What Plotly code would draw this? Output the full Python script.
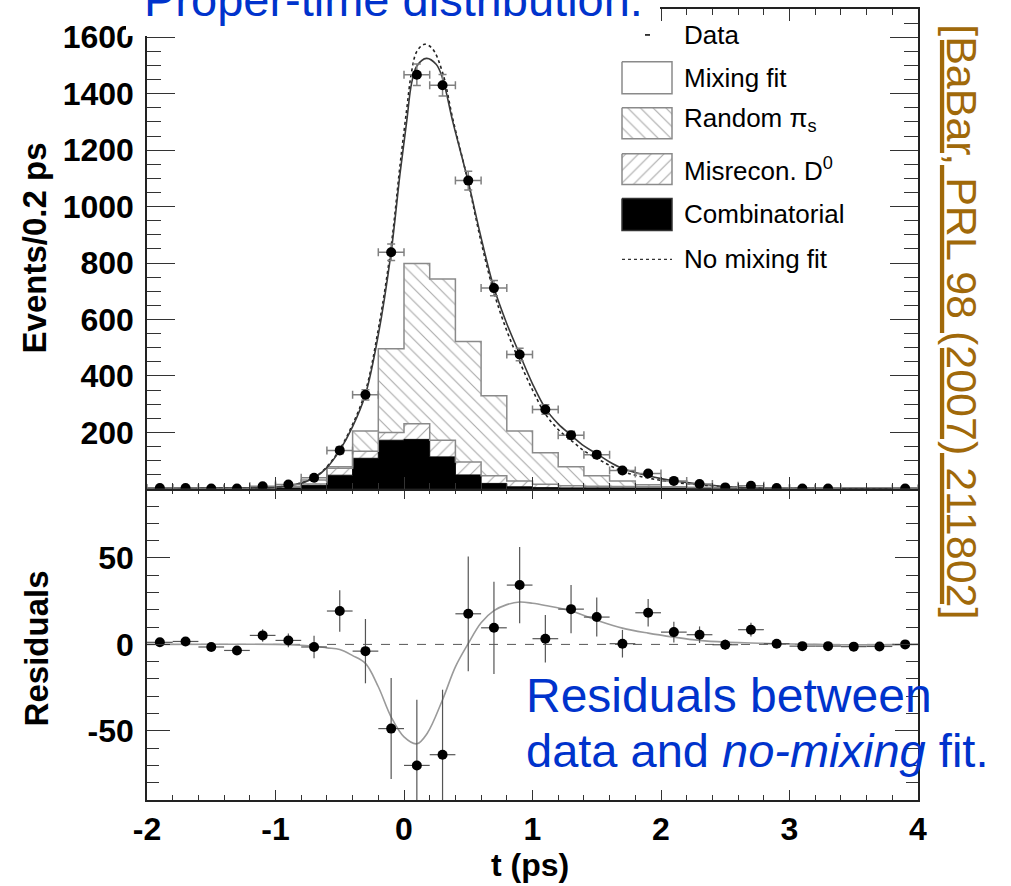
import numpy as np
import plotly.graph_objects as go

# ---------------- data ----------------
t_centers = [-1.9, -1.7, -1.5, -1.3, -1.1, -0.9, -0.7, -0.5, -0.3, -0.1,
             0.1, 0.3, 0.5, 0.7, 0.9, 1.1, 1.3, 1.5, 1.7, 1.9,
             2.1, 2.3, 2.5, 2.7, 2.9, 3.1, 3.3, 3.5, 3.7, 3.9]
bin_edges = [-2.0, -1.8, -1.6, -1.4, -1.2, -1.0, -0.8, -0.6, -0.4, -0.2,
             0.0, 0.2, 0.4, 0.6, 0.8, 1.0, 1.2, 1.4, 1.6, 1.8,
             2.0, 2.2, 2.4, 2.6, 2.8, 3.0, 3.2, 3.4, 3.6, 3.8, 4.0]

events = [3, 3, 1, 1, 9, 15, 39, 136, 333, 838,
          1467, 1430, 1092, 711, 476, 281, 190, 121, 65, 54,
          28, 17, 5, 11, 3, 1, 1, None, None, 1]
events_err = [2, 2, 1, 1, 3, 4, 6, 12, 18, 29,
              38, 38, 33, 27, 22, 17, 14, 11, 8, 7,
              5, 4, 2, 3, 2, 1, 1, 0, 0, 1]

combinatorial = [1, 1, 1, 1, 2, 4, 12, 48, 108, 172,
                 175, 113, 49, 19, 7, 4, 3, 3, 3, 3,
                 3, 3, 3, 3, 3, 3, 3, 3, 3, 3]
misrecon_d0 = [0, 0, 0, 0, 1, 2, 5, 25, 25, 27,
               55, 59, 46, 27, 21, 12, 8, 6, 5, 4,
               3, 2, 1, 1, 1, 0, 0, 0, 0, 0]
random_pis = [0, 0, 0, 0, 1, 2, 14, 5, 72, 297,
              568, 571, 427, 284, 177, 112, 67, 37, 20, 7,
              1, 0, 0, 0, 0, 0, 0, 0, 0, 0]

mix_t = [-2.0, -1.5, -1.2, -1.0, -0.9, -0.8, -0.7, -0.6, -0.5, -0.4, -0.3, -0.2, -0.1,
         -0.03, 0.02, 0.06, 0.1, 0.175, 0.25, 0.3, 0.38, 0.5, 0.6, 0.7, 0.8, 0.9, 1.0,
         1.1, 1.2, 1.3, 1.4, 1.5, 1.6, 1.7, 1.8, 1.9, 2.0, 2.1, 2.3, 2.5, 2.7, 3.0, 3.5, 4.0]
mix_fit = [0, 1, 3, 6, 11, 20, 38, 75, 136, 220, 334, 545, 839,
           1120, 1298, 1439, 1498, 1525, 1504, 1455, 1300, 1088, 890, 712, 585, 477, 372,
           285, 230, 190, 152, 124, 95, 72, 58, 46, 36, 28, 17, 8, 3, 1, 0, 0]

nomix_t = [-2.0, -1.5, -1.2, -1.0, -0.9, -0.8, -0.7, -0.6, -0.5, -0.4, -0.3, -0.2, -0.1,
           -0.03, 0.02, 0.06, 0.1, 0.16, 0.22, 0.3, 0.38, 0.5, 0.6, 0.7, 0.8, 0.9, 1.0,
           1.1, 1.2, 1.3, 1.4, 1.5, 1.6, 1.7, 1.8, 1.9, 2.0, 2.1, 2.3, 2.5, 2.7, 3.0, 3.5, 4.0]
nomix_fit = [0, 1, 3, 6, 11, 21, 40, 78, 140, 228, 345, 565, 860,
             1150, 1340, 1480, 1550, 1575, 1560, 1475, 1310, 1085, 875, 695, 560, 450, 350,
             265, 210, 172, 135, 108, 83, 62, 48, 38, 30, 23, 14, 7, 3, 1, 0, 0]

residuals = [1.2, 1.7, -1.5, -3.5, 5.2, 2.3, -1.5, 19.3, -3.9, -48.7,
             -70.0, -63.8, 17.7, 9.6, 34.3, 3.3, 20.4, 15.8, 0.4, 18.3,
             7.1, 5.6, -0.2, 8.5, 0.4, -1.0, -1.0, -1.3, -1.2, 0.0]
residuals_err = [1.5, 1.5, 1.5, 1.5, 3.6, 4.0, 6.5, 12.0, 18.6, 29.2,
                 38.0, 37.6, 33.2, 26.7, 22.0, 13.7, 14.0, 11.3, 8.0, 8.0,
                 6.0, 4.8, 3.0, 4.0, 2.5, 1.5, 1.5, 1.5, 1.5, 1.5]

resfit_t = [-2.0, -1.0, -0.8, -0.7, -0.6, -0.5, -0.4, -0.3, -0.2, -0.1, 0.0, 0.1, 0.18,
            0.3, 0.4, 0.5, 0.6, 0.7, 0.8, 0.9, 1.0, 1.1, 1.3, 1.5, 1.7, 1.9, 2.1, 2.3,
            2.5, 2.7, 2.9, 3.2, 3.6, 4.0]
resfit = [0, 0, -0.5, -1, -2, -3, -6.5, -11, -24.5, -42, -53.5, -57.5, -51.5,
          -32, -13, 0.5, 12.5, 19.5, 23, 24.5, 23.8, 22.5, 19.3, 14, 9.4, 6.5, 4.2, 2.3,
          1.3, 0.8, 0.4, 0, -0.3, 0]

top_yticks = [200, 400, 600, 800, 1000, 1200, 1400, 1600]
top_yticktext = ["200", "400", "600", "800", "1000", "1200", "1400", "1600"]
res_yticks = [-50, 0, 50]
res_yticktext = ["-50", "0", "50"]
x_ticks = [-2, -1, 0, 1, 2, 3, 4]
x_ticktext = ["-2", "-1", "0", "1", "2", "3", "4"]

legend_labels = ["Data", "Mixing fit", "Random \u03c0<sub>s</sub>",
                 "Misrecon. D<sup>0</sup>", "Combinatorial", "No mixing fit"]

# ---------------- layout constants (pixels) ----------------
W, H = 1011, 886
PX_L, PX_R, PY_T, PY_B = 147, 918, 7, 800
PY_SPLIT = 488
FONT = "Liberation Sans, Arial, Helvetica, sans-serif"
BLUE = "#0033CC"
GOLD = "#A0690A"

def xp(px):
    return (px - PX_L) / (PX_R - PX_L)

def yp(py):
    return (PY_B - py) / (PY_B - PY_T)

TOP_RANGE = [0, 1700]
X_RANGE = [-2, 4]

def tx(px):  # pixel -> top panel data x
    return X_RANGE[0] + (px - PX_L) / (PX_R - PX_L) * (X_RANGE[1] - X_RANGE[0])

def ty(py):  # pixel -> top panel data y
    return TOP_RANGE[0] + (PY_SPLIT - py) / (PY_SPLIT - PY_T) * (TOP_RANGE[1] - TOP_RANGE[0])

split = yp(PY_SPLIT)

fig = go.Figure()

# ---------------- stacked step histograms ----------------
c1 = np.array(combinatorial, dtype=float)
c2 = c1 + np.array(misrecon_d0, dtype=float)
c3 = c2 + np.array(random_pis, dtype=float)

def step(v):
    v = list(v)
    return v + [v[-1]]

fig.add_trace(go.Scatter(x=bin_edges, y=step(c1), xaxis="x2", yaxis="y2", mode="lines",
                         line=dict(shape="hv", color="black", width=1),
                         fill="tozeroy", fillcolor="black", hoverinfo="skip"))
fig.add_trace(go.Scatter(x=bin_edges, y=step(c2), xaxis="x2", yaxis="y2", mode="lines",
                         line=dict(shape="hv", color="#8a8a8a", width=1.5),
                         fill="tonexty", fillcolor="white",
                         fillpattern=dict(shape="/", fgcolor="#a8a8a8", bgcolor="white",
                                          size=9, solidity=0.12, fillmode="replace"),
                         hoverinfo="skip"))
fig.add_trace(go.Scatter(x=bin_edges, y=step(c3), xaxis="x2", yaxis="y2", mode="lines",
                         line=dict(shape="hv", color="#8a8a8a", width=1.5),
                         fill="tonexty", fillcolor="white",
                         fillpattern=dict(shape="\\", fgcolor="#a8a8a8", bgcolor="white",
                                          size=9, solidity=0.12, fillmode="replace"),
                         hoverinfo="skip"))

# ---------------- fit curves ----------------
fig.add_trace(go.Scatter(x=nomix_t, y=nomix_fit, xaxis="x2", yaxis="y2", mode="lines",
                         line=dict(shape="spline", color="#222222", width=1.6, dash="dot")))
fig.add_trace(go.Scatter(x=mix_t, y=mix_fit, xaxis="x2", yaxis="y2", mode="lines",
                         line=dict(shape="spline", color="#3a3a3a", width=1.6)))

# ---------------- data points ----------------
fig.add_trace(go.Scatter(x=t_centers, y=events, xaxis="x2", yaxis="y2", mode="markers",
                         marker=dict(color="black", size=10),
                         error_y=dict(type="data", array=events_err, color="#808080",
                                      thickness=1.5, width=4),
                         error_x=dict(type="constant", value=0.1, color="#808080",
                                      thickness=1.5, width=4)))

# ---------------- residual panel ----------------
fig.add_shape(type="line", xref="x", yref="y", x0=X_RANGE[0], x1=X_RANGE[1], y0=0, y1=0,
              line=dict(color="#555555", width=1, dash="dash"), layer="below")
fig.add_trace(go.Scatter(x=resfit_t, y=resfit, xaxis="x", yaxis="y", mode="lines",
                         line=dict(shape="spline", color="#9a9a9a", width=1.6)))
fig.add_trace(go.Scatter(x=t_centers, y=residuals, xaxis="x", yaxis="y", mode="markers",
                         marker=dict(color="black", size=10),
                         error_y=dict(type="data", array=residuals_err, color="#555555",
                                      thickness=1.2, width=0),
                         error_x=dict(type="constant", value=0.1, color="#555555",
                                      thickness=1.2, width=0)))

# ---------------- legend (drawn by hand) ----------------
SW_L, SW_R = 622, 672
swatch_rows = [(60, 92), (106, 137), (152, 183), (197, 229)]
swatch_styles = [
    dict(fillcolor="white", pattern=None, line="#8a8a8a"),
    dict(fillcolor="white", pattern="\\", line="#8a8a8a"),
    dict(fillcolor="white", pattern="/", line="#8a8a8a"),
    dict(fillcolor="black", pattern=None, line="#333333"),
]
for (top, bot), st in zip(swatch_rows, swatch_styles):
    xs = [tx(SW_L), tx(SW_R), tx(SW_R), tx(SW_L), tx(SW_L)]
    ys = [ty(top), ty(top), ty(bot), ty(bot), ty(top)]
    kw = dict(x=xs, y=ys, xaxis="x2", yaxis="y2", mode="lines", fill="toself",
              fillcolor=st["fillcolor"], line=dict(color=st["line"], width=1.5),
              hoverinfo="skip")
    if st["pattern"]:
        kw["fillpattern"] = dict(shape=st["pattern"], fgcolor="#a8a8a8", bgcolor="white",
                                 size=9, solidity=0.12, fillmode="replace")
    fig.add_trace(go.Scatter(**kw))

shapes = []
# white box of the slide title covering the top-left of the frame
shapes.append(dict(type="rect", xref="paper", yref="paper", x0=xp(126), x1=xp(660),
                   y0=yp(34), y1=yp(-5), fillcolor="white", line=dict(width=0),
                   layer="above"))
# data legend symbol (tiny dash)
shapes.append(dict(type="line", xref="paper", yref="paper", x0=xp(645), x1=xp(650),
                   y0=yp(33), y1=yp(33), line=dict(color="black", width=1.5), layer="above"))
# no-mixing legend line
shapes.append(dict(type="line", xref="paper", yref="paper", x0=xp(SW_L), x1=xp(SW_R),
                   y0=yp(258), y1=yp(258), line=dict(color="#333333", width=1.2, dash="dot")))
for s in shapes:
    fig.add_shape(**s)

legend_y = [33, 76, 118, 168, 213, 258]
annotations = []
for lab, yy in zip(legend_labels, legend_y):
    annotations.append(dict(text=lab, xref="paper", yref="paper", x=xp(682), y=yp(yy),
                            xanchor="left", yanchor="middle", showarrow=False,
                            font=dict(family=FONT, size=26, color="black")))

# axis titles
annotations.append(dict(text="Events/0.2 ps", xref="paper", yref="paper", x=xp(34), y=yp(247),
                        textangle=-90, xanchor="center", yanchor="middle", showarrow=False,
                        font=dict(family=FONT, size=33, color="black", weight="bold")))
annotations.append(dict(text="Residuals", xref="paper", yref="paper", x=xp(36), y=yp(648),
                        textangle=-90, xanchor="center", yanchor="middle", showarrow=False,
                        font=dict(family=FONT, size=33, color="black", weight="bold")))
annotations.append(dict(text="t (ps)", xref="paper", yref="paper", x=xp(530), y=yp(865),
                        xanchor="center", yanchor="middle", showarrow=False,
                        font=dict(family=FONT, size=32, color="black", weight="bold")))

# slide texts
annotations.append(dict(text="Proper-time distribution.", xref="paper", yref="paper",
                        x=xp(142), y=yp(26), xanchor="left", yanchor="bottom", showarrow=False,
                        font=dict(family=FONT, size=47, color=BLUE)))
annotations.append(dict(text="Residuals between", xref="paper", yref="paper",
                        x=xp(524), y=yp(724), xanchor="left", yanchor="bottom", showarrow=False,
                        font=dict(family=FONT, size=48, color=BLUE)))
annotations.append(dict(text="data and <i>no-mixing</i> fit.", xref="paper", yref="paper",
                        x=xp(524), y=yp(779), xanchor="left", yanchor="bottom", showarrow=False,
                        font=dict(family=FONT, size=47, color=BLUE)))
annotations.append(dict(text="<u>[BaBar, PRL 98 (2007) 211802]</u>", xref="paper", yref="paper",
                        x=xp(962), y=yp(320), textangle=90, xanchor="center", yanchor="middle",
                        showarrow=False,
                        font=dict(family=FONT, size=43, color=GOLD)))

axis_common = dict(showline=True, linecolor="#222222", linewidth=1.5, mirror="ticks",
                   ticks="inside", tickcolor="#333333", tickwidth=1, showgrid=False,
                   zeroline=False)
tickfont = dict(family=FONT, size=32, color="black", weight="bold")

fig.update_layout(
    width=W, height=H,
    margin=dict(l=PX_L, r=W - PX_R, t=PY_T, b=H - PY_B),
    paper_bgcolor="white", plot_bgcolor="white", showlegend=False,
    xaxis=dict(domain=[0, 1], anchor="y", range=X_RANGE, tickmode="array", tickvals=x_ticks,
               ticktext=x_ticktext, ticklen=10, tickfont=tickfont, ticklabelstandoff=0,
               minor=dict(ticks="inside", ticklen=5, tickcolor="#333333", tickwidth=1,
                          tickmode="linear", tick0=-2, dtick=0.2, showgrid=False),
               **axis_common),
    yaxis=dict(domain=[0, split], anchor="x", range=[-90, 90], tickmode="array",
               tickvals=res_yticks, ticktext=res_yticktext, ticklen=23, tickfont=tickfont,
               ticklabelstandoff=5,
               minor=dict(ticks="inside", ticklen=12, tickcolor="#333333", tickwidth=1,
                          tickmode="linear", tick0=0, dtick=10, showgrid=False),
               **axis_common),
    xaxis2=dict(domain=[0, 1], anchor="y2", range=X_RANGE, matches="x", tickmode="array",
                tickvals=x_ticks, ticklen=12, showticklabels=False,
                minor=dict(ticks="inside", ticklen=6, tickcolor="#333333", tickwidth=1,
                           tickmode="linear", tick0=-2, dtick=0.2, showgrid=False),
                **axis_common),
    yaxis2=dict(domain=[split, 1], anchor="x2", range=TOP_RANGE, tickmode="array",
                tickvals=top_yticks, ticktext=top_yticktext, ticklen=28, tickfont=tickfont,
                ticklabelstandoff=5,
                minor=dict(ticks="inside", ticklen=14, tickcolor="#333333", tickwidth=1,
                           tickmode="linear", tick0=0, dtick=50, showgrid=False),
                **axis_common),
    annotations=annotations,
)

fig.write_html("out.html")
